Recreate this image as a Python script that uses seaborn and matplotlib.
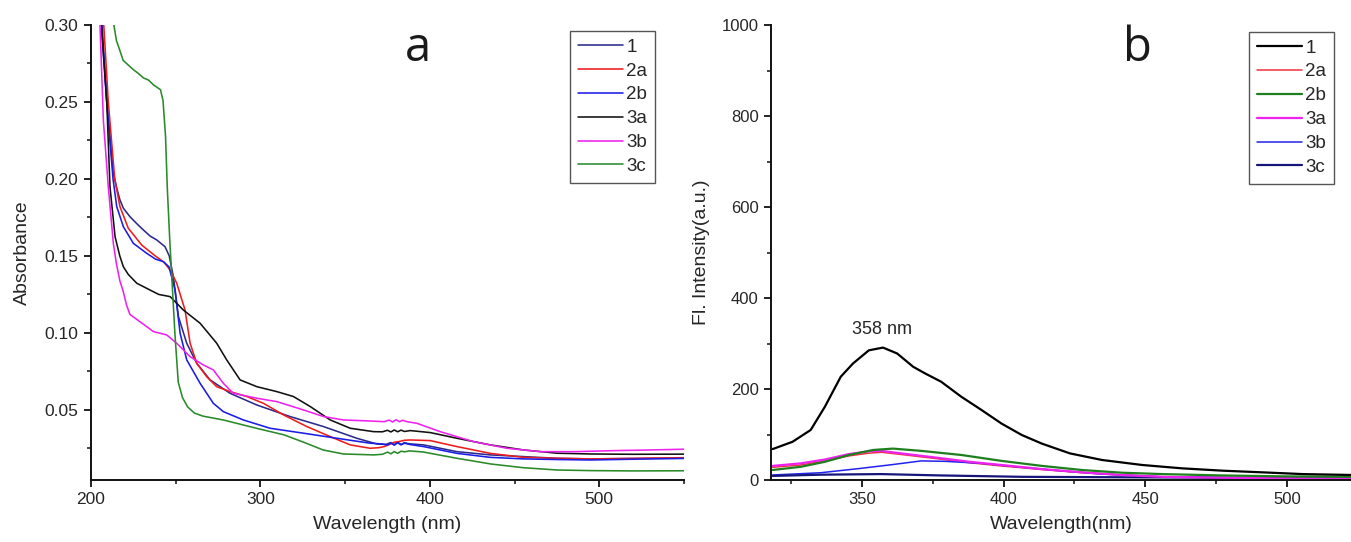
import numpy as np
import pandas as pd
import matplotlib
matplotlib.use("Agg")
import matplotlib.pyplot as plt
from matplotlib.ticker import MultipleLocator, FixedLocator
import seaborn as sns

# ---------------- (a) UV-Vis absorbance ----------------
abs_labels = ["1", "2a", "2b", "3a", "3b", "3c"]
abs_colors = ["#2b2b8c", "#ee1c1c", "#1c1ce8", "#111111", "#ee22ee", "#2a8a2a"]

wl_1 = [206, 209.3, 213, 215.2, 217.1, 219.1, 223, 227, 230.9, 234.8, 238.8, 243.7, 246.2,
        248.6, 251.6, 256.5, 262.4, 270.3, 282.1, 297.9, 317.5, 337.2, 356.9, 368.7, 374,
        377, 379, 381, 383, 385, 388, 396.3, 416, 435.7, 455, 475, 495, 520, 550]
ab_1 = [0.31, 0.25, 0.205, 0.194, 0.1864, 0.181, 0.1755, 0.171, 0.1669, 0.163, 0.1604, 0.156, 0.150,
        0.1366, 0.1106, 0.0933, 0.0803, 0.0695, 0.0608, 0.0532, 0.0457, 0.0392, 0.0316, 0.0279, 0.0276,
        0.0288, 0.0275, 0.0290, 0.0276, 0.0287, 0.0280, 0.0273, 0.0229, 0.0208, 0.0197, 0.0186, 0.0182, 0.0185, 0.0188]

wl_2a = [207, 210.2, 214, 217.1, 222, 230, 238, 243, 246.7, 250.6, 255.5, 258.5, 262.4, 268.3,
         274.2, 282.1, 292, 301.8, 313.6, 327.4, 341.2, 353, 364.8, 370, 373, 376, 379, 382, 385,
         388.4, 400.2, 416, 435.7, 455.4, 475.1, 495, 520, 550]
ab_2a = [0.31, 0.25, 0.200, 0.182, 0.168, 0.157, 0.150, 0.146, 0.1409, 0.1323, 0.1149, 0.0933, 0.0803, 0.0716,
         0.0651, 0.0619, 0.0587, 0.0543, 0.0468, 0.0392, 0.0327, 0.0273, 0.0251, 0.0255, 0.0262, 0.0275, 0.0290,
         0.0295, 0.0303, 0.0305, 0.0301, 0.0262, 0.0218, 0.0192, 0.0186, 0.0182, 0.0185, 0.0190]

wl_2b = [205.5, 209.3, 213, 215.2, 219.1, 225, 232.8, 238, 242.7, 246, 249.6, 252.6, 256.5, 264.4,
         272.2, 278.1, 289.9, 305.7, 325.4, 345.1, 364.8, 372, 375, 377, 379, 381, 383, 385, 388,
         396.3, 416, 435.7, 455.4, 475, 495, 520, 550]
ab_2b = [0.31, 0.25, 0.200, 0.182, 0.169, 0.1582, 0.1518, 0.148, 0.1463, 0.143, 0.128, 0.0998, 0.0825, 0.0673,
         0.0543, 0.0489, 0.0435, 0.0381, 0.0349, 0.0316, 0.0284, 0.0279, 0.0272, 0.0285, 0.0271, 0.0287, 0.0273,
         0.0284, 0.0276, 0.0262, 0.0218, 0.0192, 0.0182, 0.0178, 0.0175, 0.0180, 0.0185]

wl_3a = [205.5, 209.3, 211.2, 214.2, 217, 219.1, 222, 227, 234.8, 240, 246.7, 254.5, 264.4, 274.2,
         280.1, 288, 297.9, 309.7, 319.5, 329.4, 341.2, 353, 366.8, 372, 375, 377, 379, 381, 383,
         385, 388.4, 400.2, 416, 435.7, 455.4, 475.1, 495, 520, 550]
ab_3a = [0.31, 0.25, 0.195, 0.1625, 0.150, 0.143, 0.138, 0.1323, 0.1279, 0.125, 0.1236, 0.1149, 0.1063, 0.0933,
         0.0825, 0.0695, 0.0651, 0.0619, 0.0587, 0.0522, 0.0435, 0.0381, 0.0359, 0.0358, 0.0368, 0.0357, 0.0370,
         0.0358, 0.0369, 0.0360, 0.0366, 0.0353, 0.0316, 0.0273, 0.0240, 0.0219, 0.0214, 0.0212, 0.0213]

wl_3b = [205.0, 207.3, 210.2, 213.2, 215, 217, 219, 221, 223, 228.9, 236.8, 244.7, 250.6, 258.5,
         266.3, 272.2, 278.1, 284, 297.9, 309.7, 325.4, 337.2, 349, 365, 373, 376, 378, 380, 382,
         384, 386, 392.4, 406.1, 425.8, 445.5, 465.2, 485, 510, 530, 550]
ab_3b = [0.31, 0.238, 0.195, 0.158, 0.145, 0.134, 0.127, 0.118, 0.112, 0.1073, 0.1009, 0.0987, 0.0933, 0.0846,
         0.0792, 0.0760, 0.0673, 0.0608, 0.0576, 0.0554, 0.050, 0.0457, 0.0435, 0.0428, 0.0424, 0.0434, 0.0422,
         0.0436, 0.0424, 0.0433, 0.0425, 0.0413, 0.0359, 0.0294, 0.0251, 0.0229, 0.0229, 0.0236, 0.0240, 0.0245]

wl_3c = [212, 215, 219, 225, 228, 231, 234, 237, 241, 242.5, 244, 245, 246.5, 248, 249.5, 251.5,
         254, 257, 261, 266, 278, 298, 314, 327, 337, 349, 367, 372, 375, 377, 379, 381, 383,
         385, 388, 396, 416, 436, 455, 475, 495, 520, 550]
ab_3c = [0.31, 0.290, 0.277, 0.271, 0.2685, 0.2656, 0.2642, 0.261, 0.258, 0.251, 0.2275, 0.195, 0.160, 0.130,
         0.100, 0.068, 0.058, 0.052, 0.048, 0.046, 0.0435, 0.038, 0.0338, 0.0284, 0.024, 0.0214, 0.0208,
         0.0212, 0.0226, 0.0215, 0.0230, 0.0218, 0.0232, 0.0228, 0.0234, 0.0227, 0.0186, 0.0149, 0.0125,
         0.0110, 0.0106, 0.0104, 0.0105]

abs_series = [(wl_1, ab_1), (wl_2a, ab_2a), (wl_2b, ab_2b),
              (wl_3a, ab_3a), (wl_3b, ab_3b), (wl_3c, ab_3c)]

# ---------------- (b) fluorescence emission ----------------
fl_labels = ["1", "2a", "2b", "3a", "3b", "3c"]
fl_colors = ["#000000", "#f0303c", "#1f7f1f", "#ee22ee", "#2222ee", "#16167a"]

em_1 = [318.6, 325.6, 332, 337, 342.6, 346.9, 352.5, 357.5, 362.5, 368.1, 372.4, 378, 385.1, 392.2,
        399.3, 406.4, 413.5, 423.4, 434.7, 448.9, 463, 477.2, 491.4, 505.5, 523]
fi_1 = [68, 84, 110, 161, 227, 256, 285, 291, 278, 249, 234, 216, 183, 154,
        124, 99, 80, 58.5, 44, 33, 25.6, 20.5, 16.8, 13, 11]

em_2a = [318.6, 328.5, 337, 345.5, 352.5, 357, 364, 375, 388, 399, 413.5, 427.6, 441.8, 456, 484, 523]
fi_2a = [28, 33, 42, 53, 59, 61, 56, 48, 38, 31, 23, 16, 11, 7, 4.5, 3]

em_2b = [318.6, 328.5, 337, 345.5, 354, 361, 371, 385.1, 399.3, 413.5, 427.6, 441.8, 456, 477.2, 498.4, 523]
fi_2b = [22, 29, 40, 55, 66, 69, 64, 55, 42, 31, 22, 16, 13, 10, 8, 7]

em_3a = [318.6, 328.5, 337, 345.5, 352.5, 356.8, 363.9, 375.2, 388, 399.3, 413.5, 427.6, 441.8, 456, 484, 523]
fi_3a = [31, 36.6, 45, 57, 63, 64, 58.5, 50, 40, 33, 24, 17, 11, 7, 4.4, 3]

em_3b = [318.6, 335.6, 349.7, 361, 371, 379.5, 392.2, 406.4, 420.5, 434.7, 456, 484, 523]
fi_3b = [11, 16, 25.6, 34, 42, 41, 36.6, 28, 20, 13, 7, 4.4, 3]

em_3c = [318.6, 335.6, 356.8, 378, 406.4, 441.8, 484, 523]
fi_3c = [9, 11.7, 13, 10, 7, 6, 5, 4.4]

fl_series = [(em_1, fi_1), (em_2a, fi_2a), (em_2b, fi_2b),
             (em_3a, fi_3a), (em_3b, fi_3b), (em_3c, fi_3c)]
fl_widths = [1.6, 1.1, 1.6, 1.6, 1.1, 1.6]

peak_label = "358 nm"
peak_wl = 358
peak_val = 291

sns.set_style("ticks")
plt.rcParams["font.family"] = ["Liberation Sans", "DejaVu Sans"]

W, H = 1351, 542
fig = plt.figure(figsize=(W / 100, H / 100), dpi=100)
ax_a = fig.add_axes([91 / W, 1 - 480 / H, (684 - 91) / W, 455 / H])
ax_b = fig.add_axes([771 / W, 1 - 480 / H, (W - 771) / W + 0.001, 455 / H])

for (x, y), lab, col in zip(abs_series, abs_labels, abs_colors):
    df = pd.DataFrame({"wl": x, "A": y})
    sns.lineplot(data=df, x="wl", y="A", ax=ax_a, color=col, lw=1.15, label=lab,
                 estimator=None, sort=False)

# draw order for the emission plot: small curves first, strong band on top
order = [1, 4, 5, 3, 2, 0]
for i in order:
    x, y = fl_series[i]
    df = pd.DataFrame({"wl": x, "I": y})
    sns.lineplot(data=df, x="wl", y="I", ax=ax_b, color=fl_colors[i], lw=fl_widths[i],
                 label=fl_labels[i], estimator=None, sort=False)

for ax in (ax_a, ax_b):
    sns.despine(ax=ax)
    for s in ("left", "bottom"):
        ax.spines[s].set_linewidth(1.4)
        ax.spines[s].set_color("#111111")
    ax.tick_params(which="major", direction="out", length=5, width=1.3, color="#111111",
                   labelsize=12.5, pad=4)
    ax.tick_params(which="minor", direction="out", length=3, width=1.1, color="#111111")

ax_a.set_xlim(200, 550)
ax_a.set_ylim(0.0045, 0.30)
ax_a.xaxis.set_major_locator(FixedLocator([200, 300, 400, 500]))
ax_a.xaxis.set_minor_locator(MultipleLocator(50))
ax_a.yaxis.set_major_locator(FixedLocator([0.05, 0.10, 0.15, 0.20, 0.25, 0.30]))
ax_a.yaxis.set_minor_locator(MultipleLocator(0.025))
ax_a.set_yticklabels(["0.05", "0.10", "0.15", "0.20", "0.25", "0.30"])
ax_a.set_xlabel("Wavelength (nm)", fontsize=14, labelpad=6)
ax_a.set_ylabel("Absorbance", fontsize=14, labelpad=10)

ax_b.set_xlim(318, 523)
ax_b.set_ylim(0, 1000)
ax_b.xaxis.set_major_locator(FixedLocator([350, 400, 450, 500]))
ax_b.xaxis.set_minor_locator(MultipleLocator(25))
ax_b.yaxis.set_major_locator(MultipleLocator(200))
ax_b.yaxis.set_minor_locator(MultipleLocator(100))
ax_b.tick_params(which="major", labelsize=12)
ax_b.set_xlabel("Wavelength(nm)", fontsize=14, labelpad=6)
ax_b.set_ylabel("Fl. Intensity(a.u.)", fontsize=14, labelpad=8)

ax_b.text(peak_wl - 1, peak_val + 20, peak_label, fontsize=13, ha="center", va="bottom")

fig.text(418 / W, 1 - 48 / H, "a", fontsize=34, family=["Open Sans", "DejaVu Sans"],
         color="#1a1a1a", ha="center", va="center")
fig.text(1137 / W, 1 - 48 / H, "b", fontsize=34, family=["Open Sans", "DejaVu Sans"],
         color="#1a1a1a", ha="center", va="center")

leg_kw = dict(loc="upper left", bbox_transform=fig.transFigure, borderaxespad=0,
              fancybox=False, framealpha=1, edgecolor="#555555", fontsize=13.5,
              handlelength=2.4, handletextpad=0.2, labelspacing=0.36, borderpad=0.4)

h, l = ax_a.get_legend_handles_labels()
leg_a = ax_a.legend(h, l, bbox_to_anchor=(570 / W, 1 - 31 / H), **leg_kw)
leg_a.get_frame().set_linewidth(1.0)

h, l = ax_b.get_legend_handles_labels()
pos = {lab: k for k, lab in enumerate(l)}
hb = [h[pos[lab]] for lab in fl_labels]
leg_b = ax_b.legend(hb, fl_labels, bbox_to_anchor=(1249 / W, 1 - 32 / H), **leg_kw)
leg_b.get_frame().set_linewidth(1.0)

fig.savefig("out.png", dpi=100)
